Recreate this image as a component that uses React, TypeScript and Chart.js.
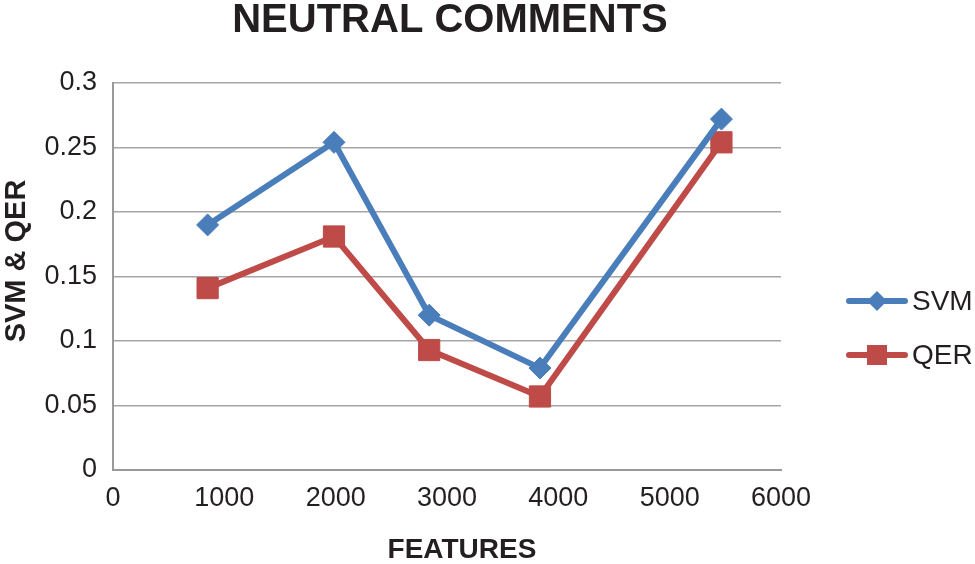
import React, { useEffect, useRef } from 'react';
import { Chart, registerables } from 'chart.js';

Chart.register(...registerables);

const chartTitle = 'NEUTRAL COMMENTS';
const xAxisTitle = 'FEATURES';
const yAxisTitle = 'SVM & QER';
const seriesNames = ['SVM', 'QER'];
const seriesColors = ['#4A7EBB', '#BE4B48'];

const features = [850, 1985, 2840, 3835, 5465];
const svmValues = [0.19, 0.254, 0.12, 0.079, 0.272];
const qerValues = [0.141, 0.181, 0.093, 0.057, 0.254];

const xTickLabels = ['0', '1000', '2000', '3000', '4000', '5000', '6000'];
const yTickLabels = ['0', '0.05', '0.1', '0.15', '0.2', '0.25', '0.3'];

const FONT = "'Liberation Sans', Arial, Helvetica, sans-serif";
const TEXT = '#231f20';

const textPlugin = {
  id: 'customText',
  afterDraw(chart: any) {
    const ctx = chart.ctx;
    ctx.save();
    ctx.fillStyle = TEXT;
    ctx.textAlign = 'center';
    ctx.textBaseline = 'alphabetic';
    ctx.font = `bold 40px ${FONT}`;
    ctx.fillText(chartTitle, 450, 32);
    ctx.font = `bold 28px ${FONT}`;
    ctx.fillText(xAxisTitle, 462, 558);

    // y axis title
    ctx.save();
    ctx.translate(25, 261);
    ctx.rotate(-Math.PI / 2);
    ctx.font = `bold 29px ${FONT}`;
    ctx.textAlign = 'center';
    ctx.textBaseline = 'alphabetic';
    ctx.fillText(yAxisTitle, 0, 0);
    ctx.restore();

    // legend
    const items = [
      { name: seriesNames[0], color: seriesColors[0], style: 'diamond', y: 301 },
      { name: seriesNames[1], color: seriesColors[1], style: 'square', y: 355 },
    ];
    items.forEach((it) => {
      ctx.strokeStyle = it.color;
      ctx.lineWidth = 6;
      ctx.lineCap = 'round';
      ctx.beginPath();
      ctx.moveTo(849, it.y);
      ctx.lineTo(905, it.y);
      ctx.stroke();
      ctx.fillStyle = it.color;
      ctx.beginPath();
      if (it.style === 'diamond') {
        const r = 10;
        ctx.moveTo(877 - r, it.y);
        ctx.lineTo(877, it.y - r);
        ctx.lineTo(877 + r, it.y);
        ctx.lineTo(877, it.y + r);
        ctx.closePath();
      } else {
        ctx.rect(867, it.y - 10, 20, 20);
      }
      ctx.fill();
      ctx.fillStyle = TEXT;
      ctx.textAlign = 'left';
      ctx.textBaseline = 'middle';
      ctx.font = `28px ${FONT}`;
      ctx.fillText(it.name, 912, it.y + 1);
    });
    ctx.restore();
  },
};

export default function App() {
  const canvasRef = useRef<HTMLCanvasElement | null>(null);

  useEffect(() => {
    const canvas = canvasRef.current;
    if (!canvas) return;
    Chart.defaults.font.family = FONT;
    Chart.defaults.color = TEXT;

    const chart = new Chart(canvas, {
      type: 'line',
      data: {
        datasets: [
          {
            label: seriesNames[0],
            data: features.map((x, i) => ({ x, y: svmValues[i] })),
            borderColor: seriesColors[0],
            backgroundColor: seriesColors[0],
            borderWidth: 6,
            pointStyle: 'rectRot',
            pointRadius: 11,
            pointBorderWidth: 1,
            pointBackgroundColor: seriesColors[0],
            pointBorderColor: seriesColors[0],
            tension: 0,
          },
          {
            label: seriesNames[1],
            data: features.map((x, i) => ({ x, y: qerValues[i] })),
            borderColor: seriesColors[1],
            backgroundColor: seriesColors[1],
            borderWidth: 6,
            pointStyle: 'rect',
            pointRadius: 15,
            pointBorderWidth: 1,
            pointBackgroundColor: seriesColors[1],
            pointBorderColor: seriesColors[1],
            tension: 0,
          },
        ],
      },
      options: {
        responsive: false,
        animation: false,
        layout: { padding: { top: 83, right: 194, left: 0, bottom: 0 } },
        plugins: {
          legend: { display: false },
          title: { display: false },
          tooltip: { enabled: false },
        },
        scales: {
          x: {
            type: 'linear',
            min: 0,
            max: 6000,
            grid: { display: false, drawTicks: false },
            border: { display: true, color: '#999999', width: 2 },
            ticks: {
              stepSize: 1000,
              padding: 12,
              color: TEXT,
              font: { size: 27 },
              maxRotation: 0,
              callback: (_v: any, i: number) => xTickLabels[i],
            },
            afterFit: (scale: any) => {
              scale.height = 94;
            },
          },
          y: {
            type: 'linear',
            min: 0,
            max: 0.3,
            grid: { color: '#a6a6a6', lineWidth: 1.5, drawTicks: false },
            border: { display: true, color: '#999999', width: 2 },
            ticks: {
              stepSize: 0.05,
              padding: 16,
              color: TEXT,
              font: { size: 27 },
              callback: (_v: any, i: number) => yTickLabels[i],
            },
            afterFit: (scale: any) => {
              scale.width = 113;
            },
          },
        },
      },
      plugins: [textPlugin],
    } as any);

    return () => chart.destroy();
  }, []);

  return (
    <div style={{ position: 'absolute', left: 0, top: 0, width: 975, height: 564, background: '#fff' }}>
      <canvas ref={canvasRef} width={975} height={564} style={{ display: 'block' }} />
    </div>
  );
}
